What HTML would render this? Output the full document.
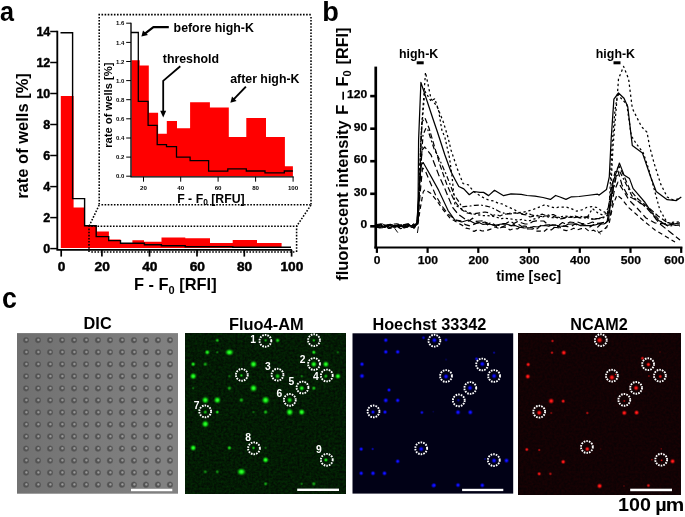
<!DOCTYPE html>
<html lang="en"><head><meta charset="utf-8"><title>Figure</title>
<style>html,body{margin:0;padding:0;background:#fff}svg{display:block}text{font-family:"Liberation Sans",sans-serif;font-weight:bold;fill:#000}</style>
</head><body>
<svg width="685" height="517" viewBox="0 0 685 517">
<defs>
<radialGradient id="gG"><stop offset="0" stop-color="#3cff3c" stop-opacity="1"/><stop offset="0.32" stop-color="#18f018" stop-opacity="0.97"/><stop offset="0.62" stop-color="#0cb00c" stop-opacity="0.55"/><stop offset="1" stop-color="#063006" stop-opacity="0"/></radialGradient>
<radialGradient id="gB"><stop offset="0" stop-color="#2020ff" stop-opacity="1"/><stop offset="0.32" stop-color="#0a0af4" stop-opacity="0.97"/><stop offset="0.62" stop-color="#0606b0" stop-opacity="0.55"/><stop offset="1" stop-color="#020230" stop-opacity="0"/></radialGradient>
<radialGradient id="gR"><stop offset="0" stop-color="#ff2a2a" stop-opacity="1"/><stop offset="0.32" stop-color="#f41212" stop-opacity="0.97"/><stop offset="0.62" stop-color="#b00a0a" stop-opacity="0.55"/><stop offset="1" stop-color="#300404" stop-opacity="0"/></radialGradient>
<radialGradient id="gD"><stop offset="0" stop-color="#505050" stop-opacity="1"/><stop offset="0.62" stop-color="#525252" stop-opacity="0.96"/><stop offset="0.84" stop-color="#5e5e5e" stop-opacity="0.6"/><stop offset="1" stop-color="#747474" stop-opacity="0"/></radialGradient>
<radialGradient id="gL"><stop offset="0" stop-color="#a2a2a2" stop-opacity="1"/><stop offset="0.45" stop-color="#939393" stop-opacity="0.9"/><stop offset="1" stop-color="#747474" stop-opacity="0"/></radialGradient>
<linearGradient id="gDbg" x1="0" y1="0" x2="1" y2="0.15"><stop offset="0" stop-color="#6f6f6f"/><stop offset="0.6" stop-color="#7b7b7b"/><stop offset="1" stop-color="#818181"/></linearGradient>
<filter id="nG" x="0" y="0" width="1" height="1" color-interpolation-filters="sRGB"><feTurbulence type="fractalNoise" baseFrequency="0.42" numOctaves="2" seed="3" result="t"/><feColorMatrix in="t" type="matrix" values="0 0 0 0 0.012  0 0.20 0 0 0.005  0 0 0 0 0.014  0 0 0 0 1"/></filter>
<filter id="nR" x="0" y="0" width="1" height="1" color-interpolation-filters="sRGB"><feTurbulence type="fractalNoise" baseFrequency="0.42" numOctaves="2" seed="5" result="t"/><feColorMatrix in="t" type="matrix" values="0.10 0 0 0 0.02  0 0 0 0 0.008  0 0 0 0 0.014  0 0 0 0 1"/></filter>
<filter id="nD" x="0" y="0" width="1" height="1" color-interpolation-filters="sRGB"><feTurbulence type="fractalNoise" baseFrequency="0.7" numOctaves="2" seed="9" result="t"/><feColorMatrix in="t" type="matrix" values="0.16 0 0 0 -0.08  0.16 0 0 0 -0.08  0.16 0 0 0 -0.08  0 0 0 0 1"/></filter>
</defs>
<rect x="0" y="0" width="685" height="517" fill="#fff"/>
<g id="panel-a">
<text x="0.1" y="21.0" font-size="28.5" textLength="14.0" lengthAdjust="spacingAndGlyphs">a</text>
<polygon fill="#ff0000" points="60.8,248.0 60.8,96.0 73.6,96.0 73.6,207.6 84.6,207.6 84.6,226.0 96.5,226.0 96.5,231.5 108.9,231.5 108.9,239.6 120.6,239.6 120.6,243.0 132.4,243.0 132.4,240.2 144.0,240.2 144.0,241.7 161.5,241.7 161.5,237.5 185.3,237.5 185.3,238.2 210.0,238.2 210.0,242.9 232.7,242.9 232.7,239.9 257.0,239.9 257.0,242.9 281.6,242.9 281.6,248.0"/>
<polyline fill="none" stroke="#000" stroke-width="1.4" stroke-linejoin="miter" points="60.5,32.8 72.6,32.8 72.6,198.6 84.6,198.6 84.6,225.7 96.2,225.7 96.2,236.6 108.7,236.6 108.7,240.6 120.5,240.6 120.5,243.2 144.4,243.2 144.4,244.8 161.4,244.8 161.4,245.8 185.2,245.8 185.2,246.8 232.8,246.8 232.8,247.2 291.0,247.2"/>
<path d="M57.3 30.7V249.9H291.9" fill="none" stroke="#000" stroke-width="1.85"/>
<line x1="50.2" y1="248.6" x2="57.3" y2="248.6" stroke="#000" stroke-width="1.5"/>
<text x="50.3" y="252.7" font-size="13.1" stroke="#000" stroke-width="0.45" text-anchor="end" textLength="7.0" lengthAdjust="spacingAndGlyphs">0</text>
<line x1="50.2" y1="217.6" x2="57.3" y2="217.6" stroke="#000" stroke-width="1.5"/>
<text x="50.3" y="221.7" font-size="13.1" stroke="#000" stroke-width="0.45" text-anchor="end" textLength="7.0" lengthAdjust="spacingAndGlyphs">2</text>
<line x1="50.2" y1="186.6" x2="57.3" y2="186.6" stroke="#000" stroke-width="1.5"/>
<text x="50.3" y="190.7" font-size="13.1" stroke="#000" stroke-width="0.45" text-anchor="end" textLength="7.0" lengthAdjust="spacingAndGlyphs">4</text>
<line x1="50.2" y1="155.5" x2="57.3" y2="155.5" stroke="#000" stroke-width="1.5"/>
<text x="50.3" y="159.6" font-size="13.1" stroke="#000" stroke-width="0.45" text-anchor="end" textLength="7.0" lengthAdjust="spacingAndGlyphs">6</text>
<line x1="50.2" y1="124.5" x2="57.3" y2="124.5" stroke="#000" stroke-width="1.5"/>
<text x="50.3" y="128.6" font-size="13.1" stroke="#000" stroke-width="0.45" text-anchor="end" textLength="7.0" lengthAdjust="spacingAndGlyphs">8</text>
<line x1="50.2" y1="93.5" x2="57.3" y2="93.5" stroke="#000" stroke-width="1.5"/>
<text x="50.3" y="97.6" font-size="13.1" stroke="#000" stroke-width="0.45" text-anchor="end" textLength="13.9" lengthAdjust="spacingAndGlyphs">10</text>
<line x1="50.2" y1="62.5" x2="57.3" y2="62.5" stroke="#000" stroke-width="1.5"/>
<text x="50.3" y="66.6" font-size="13.1" stroke="#000" stroke-width="0.45" text-anchor="end" textLength="13.9" lengthAdjust="spacingAndGlyphs">12</text>
<line x1="50.2" y1="31.5" x2="57.3" y2="31.5" stroke="#000" stroke-width="1.5"/>
<text x="50.3" y="35.6" font-size="13.1" stroke="#000" stroke-width="0.45" text-anchor="end" textLength="13.9" lengthAdjust="spacingAndGlyphs">14</text>
<line x1="61.2" y1="249.8" x2="61.2" y2="256.6" stroke="#000" stroke-width="1.7"/>
<text x="61.5" y="270.6" font-size="13.2" stroke="#000" stroke-width="0.45" text-anchor="middle" textLength="7.6" lengthAdjust="spacingAndGlyphs">0</text>
<line x1="101.9" y1="249.8" x2="101.9" y2="256.6" stroke="#000" stroke-width="1.7"/>
<text x="102.2" y="270.6" font-size="13.2" stroke="#000" stroke-width="0.45" text-anchor="middle" textLength="15.3" lengthAdjust="spacingAndGlyphs">20</text>
<line x1="149.5" y1="249.8" x2="149.5" y2="256.6" stroke="#000" stroke-width="1.7"/>
<text x="149.8" y="270.6" font-size="13.2" stroke="#000" stroke-width="0.45" text-anchor="middle" textLength="15.3" lengthAdjust="spacingAndGlyphs">40</text>
<line x1="197.0" y1="249.8" x2="197.0" y2="256.6" stroke="#000" stroke-width="1.7"/>
<text x="197.3" y="270.6" font-size="13.2" stroke="#000" stroke-width="0.45" text-anchor="middle" textLength="15.3" lengthAdjust="spacingAndGlyphs">60</text>
<line x1="244.3" y1="249.8" x2="244.3" y2="256.6" stroke="#000" stroke-width="1.7"/>
<text x="244.6" y="270.6" font-size="13.2" stroke="#000" stroke-width="0.45" text-anchor="middle" textLength="15.3" lengthAdjust="spacingAndGlyphs">80</text>
<line x1="291.6" y1="249.8" x2="291.6" y2="256.6" stroke="#000" stroke-width="1.7"/>
<text x="291.9" y="270.6" font-size="13.2" stroke="#000" stroke-width="0.45" text-anchor="middle" textLength="22.9" lengthAdjust="spacingAndGlyphs">100</text>
<text transform="translate(28.2 198.8) rotate(-90)" font-size="16.4" textLength="125.6" lengthAdjust="spacingAndGlyphs">rate of wells [%]</text>
<text x="134.0" y="289.9" font-size="16.4">F - F<tspan font-size="11" dy="3.6">0</tspan><tspan dy="-3.6"> [RFI]</tspan></text>
<line x1="98.4" y1="14.6" x2="311.8" y2="14.6" fill="none" stroke="#000" stroke-width="1.55" stroke-dasharray="1.6 1.5"/>
<line x1="99.2" y1="16.9" x2="99.2" y2="205.8" fill="none" stroke="#000" stroke-width="1.55" stroke-dasharray="1.6 1.5"/>
<line x1="311.0" y1="16.9" x2="311.0" y2="205.8" fill="none" stroke="#000" stroke-width="1.55" stroke-dasharray="1.6 1.5"/>
<line x1="101.5" y1="204.8" x2="310.2" y2="204.8" fill="none" stroke="#000" stroke-width="1.55" stroke-dasharray="1.6 1.5"/>
<line x1="88.2" y1="226.3" x2="297.4" y2="226.3" fill="none" stroke="#000" stroke-width="1.55" stroke-dasharray="1.6 1.5"/>
<line x1="89.0" y1="228.6" x2="89.0" y2="252.6" fill="none" stroke="#000" stroke-width="1.55" stroke-dasharray="1.6 1.5"/>
<line x1="296.6" y1="228.6" x2="296.6" y2="252.6" fill="none" stroke="#000" stroke-width="1.55" stroke-dasharray="1.6 1.5"/>
<line x1="91.3" y1="252.0" x2="295.8" y2="252.0" fill="none" stroke="#000" stroke-width="1.55" stroke-dasharray="1.6 1.5"/>
<line x1="99.2" y1="205.0" x2="89.0" y2="226.3" fill="none" stroke="#000" stroke-width="1.55" stroke-dasharray="1.6 1.5"/>
<line x1="311.0" y1="205.0" x2="296.6" y2="226.3" fill="none" stroke="#000" stroke-width="1.55" stroke-dasharray="1.6 1.5"/>
<polygon fill="#ff0000" points="131.6,176.2 131.6,60.3 139.7,60.3 139.7,65.4 148.8,65.4 148.8,112.8 158.1,112.8 158.1,133.8 166.8,133.8 166.8,121.0 177.0,121.0 177.0,128.2 190.1,128.2 190.1,102.3 209.9,102.3 209.9,107.5 228.8,107.5 228.8,137.0 246.3,137.0 246.3,118.0 266.0,118.0 266.0,137.0 284.9,137.0 284.9,166.2 292.9,166.2 292.9,176.2"/>
<polyline fill="none" stroke="#000" stroke-width="1.3" stroke-linejoin="miter" points="131.0,32.5 138.3,32.5 138.3,101.4 148.1,101.4 148.1,125.4 157.2,125.4 157.2,144.7 166.5,144.7 166.5,146.6 176.5,146.6 176.5,157.1 190.1,157.1 190.1,160.6 208.6,160.6 208.6,171.1 227.8,171.1 227.8,168.8 246.3,168.8 246.3,171.0 265.0,171.0 265.0,172.9 284.3,172.9 284.3,171.0 292.9,171.0"/>
<path d="M131.0 22.7V176.8H293.6" fill="none" stroke="#000" stroke-width="1.35"/>
<line x1="126.2" y1="176.2" x2="131" y2="176.2" stroke="#000" stroke-width="1.0"/>
<text x="124.3" y="178.3" font-size="6.0" text-anchor="end">0.0</text>
<line x1="126.2" y1="157.1" x2="131" y2="157.1" stroke="#000" stroke-width="1.0"/>
<text x="124.3" y="159.2" font-size="6.0" text-anchor="end">0.2</text>
<line x1="126.2" y1="138.0" x2="131" y2="138.0" stroke="#000" stroke-width="1.0"/>
<text x="124.3" y="140.1" font-size="6.0" text-anchor="end">0.4</text>
<line x1="126.2" y1="118.8" x2="131" y2="118.8" stroke="#000" stroke-width="1.0"/>
<text x="124.3" y="120.9" font-size="6.0" text-anchor="end">0.6</text>
<line x1="126.2" y1="99.7" x2="131" y2="99.7" stroke="#000" stroke-width="1.0"/>
<text x="124.3" y="101.8" font-size="6.0" text-anchor="end">0.8</text>
<line x1="126.2" y1="80.6" x2="131" y2="80.6" stroke="#000" stroke-width="1.0"/>
<text x="124.3" y="82.7" font-size="6.0" text-anchor="end">1.0</text>
<line x1="126.2" y1="61.5" x2="131" y2="61.5" stroke="#000" stroke-width="1.0"/>
<text x="124.3" y="63.6" font-size="6.0" text-anchor="end">1.2</text>
<line x1="126.2" y1="42.4" x2="131" y2="42.4" stroke="#000" stroke-width="1.0"/>
<text x="124.3" y="44.5" font-size="6.0" text-anchor="end">1.4</text>
<line x1="126.2" y1="23.2" x2="131" y2="23.2" stroke="#000" stroke-width="1.0"/>
<text x="124.3" y="25.3" font-size="6.0" text-anchor="end">1.6</text>
<line x1="143.5" y1="176.8" x2="143.5" y2="181.7" stroke="#000" stroke-width="1.0"/>
<text x="143.5" y="190.1" font-size="6.2" text-anchor="middle">20</text>
<line x1="180.7" y1="176.8" x2="180.7" y2="181.7" stroke="#000" stroke-width="1.0"/>
<text x="180.7" y="190.1" font-size="6.2" text-anchor="middle">40</text>
<line x1="218.1" y1="176.8" x2="218.1" y2="181.7" stroke="#000" stroke-width="1.0"/>
<text x="218.1" y="190.1" font-size="6.2" text-anchor="middle">60</text>
<line x1="255.6" y1="176.8" x2="255.6" y2="181.7" stroke="#000" stroke-width="1.0"/>
<text x="255.6" y="190.1" font-size="6.2" text-anchor="middle">80</text>
<line x1="293.1" y1="176.8" x2="293.1" y2="181.7" stroke="#000" stroke-width="1.0"/>
<text x="293.1" y="190.1" font-size="6.2" text-anchor="middle">100</text>
<text transform="translate(112.2 147.8) rotate(-90)" font-size="11.2">rate of wells [%]</text>
<text x="177.2" y="202.6" font-size="12.3">F - F<tspan font-size="8.4" dy="2.7">0</tspan><tspan dy="-2.7"> [RFU]</tspan></text>
<text x="173.6" y="32" font-size="12.35">before high-K</text>
<text x="162.8" y="63" font-size="12.35">threshold</text>
<text x="230.2" y="83.3" font-size="12.35">after high-K</text>
<path d="M168.8 27.1H153.4L144.6 33.8" fill="none" stroke="#000" stroke-width="2.2" stroke-linejoin="round"/>
<polygon points="141.4,36.5 143.0,30.4 148.0,35.0"/>
<path d="M180.3 66.3L163.2 80.8V112" fill="none" stroke="#000" stroke-width="1.8" stroke-linejoin="miter"/>
<polygon points="163.2,117.4 160.2,110.8 166.2,110.8"/>
<path d="M245.9 86.6L233.4 99.6" fill="none" stroke="#000" stroke-width="1.9"/>
<polygon points="230.4,102.8 232.0,96.6 236.6,101.0"/>
</g>
<g id="panel-b">
<text x="322.3" y="21.1" font-size="27.2">b</text>
<line x1="375.75" y1="66.6" x2="375.75" y2="248.55" stroke="#000" stroke-width="2.7"/>
<line x1="374.4" y1="247.5" x2="682.4" y2="247.5" stroke="#000" stroke-width="2.1"/>
<line x1="370.2" y1="226.3" x2="375.6" y2="226.3" stroke="#000" stroke-width="2.6"/>
<text x="367.2" y="228.2" font-size="11.6" stroke="#000" stroke-width="0.25" text-anchor="end" textLength="6.7" lengthAdjust="spacingAndGlyphs">0</text>
<line x1="370.2" y1="193.8" x2="375.6" y2="193.8" stroke="#000" stroke-width="2.6"/>
<text x="367.2" y="195.7" font-size="11.6" stroke="#000" stroke-width="0.25" text-anchor="end" textLength="13.5" lengthAdjust="spacingAndGlyphs">30</text>
<line x1="370.2" y1="161.2" x2="375.6" y2="161.2" stroke="#000" stroke-width="2.6"/>
<text x="367.2" y="163.1" font-size="11.6" stroke="#000" stroke-width="0.25" text-anchor="end" textLength="13.5" lengthAdjust="spacingAndGlyphs">60</text>
<line x1="370.2" y1="128.7" x2="375.6" y2="128.7" stroke="#000" stroke-width="2.6"/>
<text x="367.2" y="130.6" font-size="11.6" stroke="#000" stroke-width="0.25" text-anchor="end" textLength="13.5" lengthAdjust="spacingAndGlyphs">90</text>
<line x1="370.2" y1="96.1" x2="375.6" y2="96.1" stroke="#000" stroke-width="2.6"/>
<text x="367.2" y="98.0" font-size="11.6" stroke="#000" stroke-width="0.25" text-anchor="end" textLength="20.2" lengthAdjust="spacingAndGlyphs">120</text>
<line x1="376.9" y1="247.3" x2="376.9" y2="252.9" stroke="#000" stroke-width="2.2"/>
<text x="377.2" y="263.6" font-size="11.6" stroke="#000" stroke-width="0.25" text-anchor="middle" textLength="6.7" lengthAdjust="spacingAndGlyphs">0</text>
<line x1="427.6" y1="247.3" x2="427.6" y2="252.9" stroke="#000" stroke-width="2.2"/>
<text x="427.9" y="263.6" font-size="11.6" stroke="#000" stroke-width="0.25" text-anchor="middle" textLength="20.2" lengthAdjust="spacingAndGlyphs">100</text>
<line x1="478.3" y1="247.3" x2="478.3" y2="252.9" stroke="#000" stroke-width="2.2"/>
<text x="478.6" y="263.6" font-size="11.6" stroke="#000" stroke-width="0.25" text-anchor="middle" textLength="20.2" lengthAdjust="spacingAndGlyphs">200</text>
<line x1="529.1" y1="247.3" x2="529.1" y2="252.9" stroke="#000" stroke-width="2.2"/>
<text x="529.4" y="263.6" font-size="11.6" stroke="#000" stroke-width="0.25" text-anchor="middle" textLength="20.2" lengthAdjust="spacingAndGlyphs">300</text>
<line x1="579.8" y1="247.3" x2="579.8" y2="252.9" stroke="#000" stroke-width="2.2"/>
<text x="580.1" y="263.6" font-size="11.6" stroke="#000" stroke-width="0.25" text-anchor="middle" textLength="20.2" lengthAdjust="spacingAndGlyphs">400</text>
<line x1="630.5" y1="247.3" x2="630.5" y2="252.9" stroke="#000" stroke-width="2.2"/>
<text x="630.8" y="263.6" font-size="11.6" stroke="#000" stroke-width="0.25" text-anchor="middle" textLength="20.2" lengthAdjust="spacingAndGlyphs">500</text>
<line x1="681.2" y1="247.3" x2="681.2" y2="252.9" stroke="#000" stroke-width="2.2"/>
<text x="684.5" y="263.6" font-size="11.6" stroke="#000" stroke-width="0.25" text-anchor="end" textLength="20.2" lengthAdjust="spacingAndGlyphs">600</text>
<text x="496.2" y="281" font-size="13.9">time [sec]</text>
<text transform="translate(347.7 280.8) rotate(-90)" font-size="16.4" textLength="160.4" lengthAdjust="spacingAndGlyphs">fluorescent intensity</text>
<text transform="translate(347.7 114.8) rotate(-90)" font-size="16.4">F – F<tspan font-size="11" dy="3.4">0</tspan></text>
<text transform="translate(347.7 64.4) rotate(-90)" font-size="16.4" textLength="36.8" lengthAdjust="spacingAndGlyphs">[RFI]</text>
<text x="399" y="57.9" font-size="12.4">high-K</text>
<rect x="416.7" y="61.3" width="7.0" height="3.0" fill="#000"/>
<text x="595.8" y="57.9" font-size="12.4">high-K</text>
<rect x="613.5" y="61.3" width="7.0" height="3.0" fill="#000"/>
<polyline fill="none" stroke="#000" stroke-width="1.25" stroke-linejoin="round" points="376.8,225.0 379.8,227.1 381.9,226.2 384.4,226.7 387.3,224.8 389.1,227.3 391.5,227.1 393.3,226.0 396.1,225.3 399.3,227.6 401.1,224.6 403.7,227.7 406.0,225.2 408.4,224.6 410.5,226.0 413.0,225.3 415.1,225.2 417.2,222.0 418.1,200.0 418.6,140.0 420.9,82.4 433.0,119.0 437.1,131.0 444.9,155.0 451.0,171.8 455.0,179.5 458.8,186.5 463.8,188.9 469.3,194.7 473.7,191.5 480.0,192.4 483.6,192.4 488.6,195.6 494.5,190.3 503.6,195.7 511.0,193.8 521.2,194.4 527.0,195.5 535.0,196.2 543.0,197.5 550.4,199.4 555.6,195.5 560.0,197.0 566.0,199.4 571.4,196.8 579.0,196.5 587.0,195.5 597.6,194.2 599.2,195.1 606.5,189.6 609.3,176.8 611.1,140.0 613.9,99.1 618.5,93.0 624.0,98.2 627.7,106.5 632.3,145.5 642.4,152.9 650.6,176.8 656.2,191.5 667.2,199.7 676.4,200.6 681.3,197.0"/>
<polyline fill="none" stroke="#000" stroke-width="1.25" stroke-linejoin="round" stroke-dasharray="2.3 2.7" points="376.8,227.2 379.9,224.1 381.8,226.7 384.7,226.2 386.9,226.0 389.6,225.9 391.6,225.4 393.9,226.4 397.1,227.1 399.7,225.4 401.9,224.0 403.7,225.5 405.9,225.2 409.0,225.7 411.6,224.7 413.4,225.0 415.4,225.6 417.5,224.0 418.8,200.0 420.9,137.4 425.5,72.4 431.0,98.7 437.1,106.4 443.3,121.9 448.0,137.4 451.0,150.0 457.3,168.7 463.0,183.5 468.4,184.9 473.8,191.7 477.4,193.9 481.1,196.4 484.7,198.4 489.2,200.3 493.7,201.0 498.2,203.2 502.3,204.0 506.3,206.1 510.4,207.9 514.6,209.8 518.8,212.5 523.2,212.1 527.6,211.1 532.0,209.9 536.3,208.3 540.7,206.5 545.0,204.7 550.0,206.6 555.0,208.0 558.7,207.1 562.3,207.2 566.0,207.0 571.3,208.6 576.6,211.2 581.8,209.9 587.0,207.3 592.0,206.7 597.0,207.5 601.2,210.5 605.5,212.5 610.0,205.0 613.0,146.9 617.6,91.8 618.5,78.9 623.6,66.4 628.6,78.9 632.3,108.3 641.5,126.7 647.0,132.2 649.7,146.9 654.3,163.9 660.7,184.1 667.2,197.0 672.7,199.7 680.0,198.8"/>
<polyline fill="none" stroke="#000" stroke-width="1.25" stroke-linejoin="round" stroke-dasharray="2.2 2.5" points="376.8,225.5 379.4,226.0 382.0,226.8 383.9,224.7 386.9,225.6 389.0,228.1 391.5,227.5 393.9,226.9 395.9,226.9 399.0,226.5 401.8,227.0 403.7,227.3 406.3,225.7 408.1,227.6 410.6,227.1 413.6,227.1 417.0,224.0 419.0,200.0 420.9,137.4 424.8,91.0 431.0,101.0 434.8,98.7 438.7,111.0 441.8,130.0 444.9,137.4 449.5,157.9 452.0,176.0 454.9,205.2 459.6,207.5 464.4,210.6 469.1,212.6 473.8,214.0 478.2,214.8 482.6,215.6 487.0,215.5 491.6,216.0 496.3,217.1 500.9,218.7 505.3,218.3 509.6,218.7 514.0,219.5 518.0,220.2 522.0,219.4 526.0,220.5 530.0,220.7 533.8,219.1 537.5,218.1 541.2,217.2 545.0,216.2 550.3,217.5 555.6,217.5 559.5,217.4 563.5,216.1 567.5,216.3 571.4,216.5 575.3,216.2 579.2,217.8 583.1,218.0 587.0,217.8 592.4,208.6 598.0,213.0 603.0,215.2 609.0,212.0 612.0,146.0 615.0,110.0 617.6,94.5 626.8,104.4 631.3,135.9 636.0,143.2 643.3,152.9 648.8,169.4 654.3,189.6 659.8,209.8 667.2,222.7 680.0,221.8"/>
<polyline fill="none" stroke="#000" stroke-width="1.15" stroke-linejoin="round" points="376.8,224.9 378.7,225.4 380.8,224.3 383.1,227.2 386.0,226.7 388.2,225.9 390.3,224.7 392.3,224.8 395.4,226.9 398.3,226.8 400.4,225.2 403.1,226.6 406.1,227.1 408.0,226.2 410.7,225.8 412.8,225.7 414.7,227.3 417.0,222.0 419.0,190.0 421.0,165.0 423.2,162.5 431.0,176.4 438.7,190.4 448.1,210.6 454.9,220.0 461.7,222.0 468.4,220.0 475.0,223.5 479.0,222.6 483.0,224.4 487.0,224.0 491.3,224.5 495.7,225.3 500.0,224.2 503.8,223.9 507.5,224.2 511.2,225.8 515.0,225.5 519.5,227.2 524.0,228.0 530.0,227.5 533.8,226.5 537.5,227.0 541.2,225.7 545.0,225.5 548.8,226.3 552.5,224.8 556.2,225.2 560.0,226.0 564.0,226.4 568.0,224.3 572.0,224.0 576.3,223.9 580.7,225.8 585.0,225.5 590.0,225.6 595.0,225.0 599.5,223.6 604.0,224.0 608.4,220.9 613.0,182.3 619.4,163.0 624.0,174.9 629.5,178.6 633.2,188.7 645.1,202.5 656.2,219.0 667.2,225.4 680.0,222.7"/>
<polyline fill="none" stroke="#000" stroke-width="1.20" stroke-linejoin="round" stroke-dasharray="7 3.2" points="376.8,227.2 379.6,227.8 382.8,227.6 385.8,225.2 388.3,228.3 391.0,228.2 393.0,226.7 395.1,226.9 397.7,225.1 399.8,226.1 402.9,227.7 404.9,227.8 406.9,227.2 408.9,225.1 411.9,225.8 414.0,228.4 417.0,223.0 419.5,190.0 422.0,150.0 424.8,147.0 431.0,154.8 438.7,174.9 444.9,188.8 452.6,207.4 458.0,214.0 465.0,219.0 468.8,221.2 472.5,218.2 476.2,221.3 480.0,221.0 483.8,220.8 487.5,224.8 491.2,222.3 495.0,225.0 498.8,225.4 502.5,223.7 506.2,223.3 510.0,221.0 513.8,223.5 517.5,221.6 521.2,222.7 525.0,224.0 528.8,224.0 532.5,221.7 536.2,220.9 540.0,221.0 543.8,221.0 547.5,224.3 551.2,225.3 555.0,225.0 558.8,225.3 562.5,222.5 566.2,224.3 570.0,222.0 573.8,222.5 577.5,222.0 581.2,223.3 585.0,224.0 588.8,223.5 592.5,222.0 596.2,223.5 600.0,223.0 607.0,222.0 611.0,200.0 615.0,180.0 618.0,171.0 622.0,185.0 628.0,196.0 636.0,200.0 645.0,206.0 652.0,214.0 660.0,224.0 670.0,232.0 680.0,240.0"/>
<polyline fill="none" stroke="#000" stroke-width="1.20" stroke-linejoin="round" stroke-dasharray="5 2.4 1.8 2.4" points="376.8,226.2 379.8,225.1 381.9,223.5 384.6,225.1 387.5,224.8 390.4,224.4 393.3,226.0 395.7,225.3 398.4,224.2 401.0,226.2 403.2,226.2 406.0,226.4 408.2,223.8 411.1,226.2 413.6,223.8 415.6,225.7 418.0,222.0 420.0,180.0 423.0,135.0 426.0,128.0 427.9,130.0 434.0,148.6 440.2,161.0 446.4,174.9 454.2,195.0 458.1,200.6 462.0,207.0 466.0,206.4 470.0,206.0 475.0,205.3 480.0,205.0 485.0,205.8 490.0,207.0 495.0,209.2 500.0,212.0 505.0,213.5 510.0,214.0 515.0,212.8 520.0,213.0 523.8,214.2 527.5,213.0 531.2,214.7 535.0,216.0 538.8,215.1 542.5,214.2 546.2,215.6 550.0,214.5 553.8,214.7 557.5,216.9 561.2,218.1 565.0,217.5 568.8,216.4 572.5,217.9 576.2,217.3 580.0,216.0 584.0,217.5 588.0,216.6 592.0,219.0 595.7,218.5 599.3,218.7 603.0,218.0 608.0,215.0 612.0,195.0 616.0,178.0 620.0,172.0 626.0,184.0 632.0,196.0 640.0,203.0 650.0,210.0 660.0,221.0 668.0,226.0 680.0,225.0"/>
<polyline fill="none" stroke="#000" stroke-width="1.20" stroke-linejoin="round" stroke-dasharray="4.5 3.2" points="376.8,226.4 378.8,227.5 380.7,227.1 383.0,225.5 385.5,225.4 387.9,225.5 389.9,226.7 392.8,225.7 394.9,227.4 398.1,227.3 400.4,228.6 402.3,228.2 404.5,225.8 406.5,226.3 409.4,225.9 412.0,227.5 414.3,227.2 418.0,224.0 420.0,210.0 423.2,192.0 424.8,189.6 431.0,193.5 437.1,201.2 443.3,210.0 450.0,218.0 458.0,223.0 462.0,225.1 466.0,228.2 470.0,229.0 474.0,231.4 478.0,229.5 482.0,231.0 486.3,230.7 490.7,229.1 495.0,227.0 498.8,228.4 502.5,227.0 506.2,227.5 510.0,230.0 513.8,228.6 517.5,228.9 521.2,226.1 525.0,226.0 528.8,227.3 532.5,227.8 536.2,231.1 540.0,231.0 543.8,231.7 547.5,228.6 551.2,229.9 555.0,227.0 558.8,226.1 562.5,229.7 566.2,230.7 570.0,230.0 573.8,228.2 577.5,229.8 581.2,228.7 585.0,228.0 589.3,231.4 593.7,230.2 598.0,233.0 604.0,230.0 609.0,224.0 613.0,205.0 617.0,195.0 622.0,199.0 628.0,207.0 636.0,214.0 645.0,222.0 655.0,230.0 665.0,236.0 675.0,242.0"/>
<polyline fill="none" stroke="#000" stroke-width="1.20" stroke-linejoin="round" stroke-dasharray="6 3.6" points="376.8,224.5 379.9,224.1 382.7,224.0 384.9,227.1 387.0,225.9 389.4,225.2 391.9,224.4 394.9,224.0 397.0,223.8 399.2,225.1 402.2,225.0 404.2,224.6 407.4,223.9 410.1,225.0 412.8,224.9 415.5,225.4 418.0,223.0 420.0,195.0 422.5,168.0 425.0,170.0 430.0,182.0 436.0,196.0 442.0,206.0 448.0,214.0 456.0,220.0 460.7,220.9 465.3,224.6 470.0,226.0 473.8,224.4 477.5,222.9 481.2,223.0 485.0,222.0 488.8,223.5 492.5,224.9 496.2,226.3 500.0,228.0 503.8,226.2 507.5,225.1 511.2,225.7 515.0,224.0 518.8,224.6 522.5,227.1 526.2,228.8 530.0,229.0 533.8,229.3 537.5,228.6 541.2,225.0 545.0,225.0 548.8,224.8 552.5,227.3 556.2,227.5 560.0,228.0 563.8,225.9 567.5,226.6 571.2,226.3 575.0,224.0 578.8,226.0 582.5,224.5 586.2,225.5 590.0,227.0 593.8,224.5 597.5,227.2 601.2,223.7 605.0,224.0 610.0,218.0 614.0,192.0 618.0,182.0 623.0,190.0 629.0,200.0 637.0,208.0 646.0,218.0 655.0,223.0 668.0,224.0 680.0,226.0"/>
<polyline fill="none" stroke="#000" stroke-width="1.20" stroke-linejoin="round" stroke-dasharray="5.5 2.6" points="376.8,225.9 379.1,224.8 382.1,224.3 384.6,227.4 386.6,226.2 389.2,224.4 391.5,226.7 394.0,226.8 396.0,225.1 398.0,226.0 401.0,226.3 403.9,225.6 406.8,224.6 409.0,226.6 411.8,225.7 413.7,225.2 415.8,225.3 418.0,222.0 420.0,170.0 422.0,122.0 425.0,118.0 429.0,128.0 434.0,145.0 440.0,165.0 447.0,185.0 454.0,200.0 458.0,205.5 462.0,210.0 467.0,212.9 472.0,214.0 476.3,213.4 480.7,212.7 485.0,212.0 488.8,212.7 492.5,215.5 496.2,214.4 500.0,216.0 503.8,214.2 507.5,213.8 511.2,213.0 515.0,213.0 518.8,213.5 522.5,214.3 526.2,214.8 530.0,217.0 533.8,216.2 537.5,215.9 541.2,216.5 545.0,216.0 548.8,215.9 552.5,216.2 556.2,217.4 560.0,219.0 563.8,218.4 567.5,217.2 571.2,217.5 575.0,216.0 578.8,217.7 582.5,217.2 586.2,217.0 590.0,219.0 595.0,219.2 600.0,218.0 607.0,216.0 611.0,190.0 615.0,172.0 619.0,166.0 624.0,176.0 630.0,190.0 638.0,199.0 648.0,207.0 658.0,216.0 668.0,223.0 680.0,224.0"/>
<path d="M394.6 228.2L397.8 232.6M418.4 226.5L417.4 233M597.2 230.6L600.8 234.2M604.6 228.4L607.4 227.6" fill="none" stroke="#000" stroke-width="0.95"/>
</g>
<g id="panel-c">
<text x="2.0" y="308.4" font-size="28.6" textLength="14.9" lengthAdjust="spacingAndGlyphs">c</text>
<text x="83.6" y="329.3" font-size="16.3">DIC</text>
<text x="229" y="329.5" font-size="16.4">Fluo4-AM</text>
<text x="372.4" y="329.5" font-size="16.3">Hoechst 33342</text>
<text x="570.2" y="329.5" font-size="16.2">NCAM2</text>
<text y="510.9" font-size="17.7"><tspan x="618.1" textLength="32.9" lengthAdjust="spacingAndGlyphs">100</tspan> <tspan x="655.3" textLength="11.5" lengthAdjust="spacingAndGlyphs">µ</tspan><tspan x="665.8" textLength="18.5" lengthAdjust="spacingAndGlyphs">m</tspan></text>
<clipPath id="cD"><rect x="17" y="333.1" width="161.0" height="160.6"/></clipPath>
<rect x="17" y="333.1" width="161.0" height="160.6" fill="url(#gDbg)"/>
<g clip-path="url(#cD)">
<circle cx="14.0" cy="340.2" r="3.7" fill="url(#gD)"/>
<circle cx="14.5" cy="339.9" r="1.9" fill="url(#gL)"/>
<circle cx="26.0" cy="340.2" r="3.7" fill="url(#gD)"/>
<circle cx="26.4" cy="339.9" r="1.9" fill="url(#gL)"/>
<circle cx="38.0" cy="340.2" r="3.7" fill="url(#gD)"/>
<circle cx="38.4" cy="339.9" r="1.9" fill="url(#gL)"/>
<circle cx="50.0" cy="340.2" r="3.7" fill="url(#gD)"/>
<circle cx="50.4" cy="339.9" r="1.9" fill="url(#gL)"/>
<circle cx="62.0" cy="340.2" r="3.7" fill="url(#gD)"/>
<circle cx="62.4" cy="339.9" r="1.9" fill="url(#gL)"/>
<circle cx="74.0" cy="340.2" r="3.7" fill="url(#gD)"/>
<circle cx="74.4" cy="339.9" r="1.9" fill="url(#gL)"/>
<circle cx="86.0" cy="340.2" r="3.7" fill="url(#gD)"/>
<circle cx="86.4" cy="339.9" r="1.9" fill="url(#gL)"/>
<circle cx="97.9" cy="340.2" r="3.7" fill="url(#gD)"/>
<circle cx="98.4" cy="339.9" r="1.9" fill="url(#gL)"/>
<circle cx="109.9" cy="340.2" r="3.7" fill="url(#gD)"/>
<circle cx="110.4" cy="339.9" r="1.9" fill="url(#gL)"/>
<circle cx="121.9" cy="340.2" r="3.7" fill="url(#gD)"/>
<circle cx="122.4" cy="339.9" r="1.9" fill="url(#gL)"/>
<circle cx="133.9" cy="340.2" r="3.7" fill="url(#gD)"/>
<circle cx="134.4" cy="339.9" r="1.9" fill="url(#gL)"/>
<circle cx="145.9" cy="340.2" r="3.7" fill="url(#gD)"/>
<circle cx="146.3" cy="339.9" r="1.9" fill="url(#gL)"/>
<circle cx="157.9" cy="340.2" r="3.7" fill="url(#gD)"/>
<circle cx="158.3" cy="339.9" r="1.9" fill="url(#gL)"/>
<circle cx="169.9" cy="340.2" r="3.7" fill="url(#gD)"/>
<circle cx="170.3" cy="339.9" r="1.9" fill="url(#gL)"/>
<circle cx="181.9" cy="340.2" r="3.7" fill="url(#gD)"/>
<circle cx="182.3" cy="339.9" r="1.9" fill="url(#gL)"/>
<circle cx="14.0" cy="352.2" r="3.7" fill="url(#gD)"/>
<circle cx="14.5" cy="352.0" r="1.9" fill="url(#gL)"/>
<circle cx="26.0" cy="352.2" r="3.7" fill="url(#gD)"/>
<circle cx="26.4" cy="352.0" r="1.9" fill="url(#gL)"/>
<circle cx="38.0" cy="352.2" r="3.7" fill="url(#gD)"/>
<circle cx="38.4" cy="352.0" r="1.9" fill="url(#gL)"/>
<circle cx="50.0" cy="352.2" r="3.7" fill="url(#gD)"/>
<circle cx="50.4" cy="352.0" r="1.9" fill="url(#gL)"/>
<circle cx="62.0" cy="352.2" r="3.7" fill="url(#gD)"/>
<circle cx="62.4" cy="352.0" r="1.9" fill="url(#gL)"/>
<circle cx="74.0" cy="352.2" r="3.7" fill="url(#gD)"/>
<circle cx="74.4" cy="352.0" r="1.9" fill="url(#gL)"/>
<circle cx="86.0" cy="352.2" r="3.7" fill="url(#gD)"/>
<circle cx="86.4" cy="352.0" r="1.9" fill="url(#gL)"/>
<circle cx="97.9" cy="352.2" r="3.7" fill="url(#gD)"/>
<circle cx="98.4" cy="352.0" r="1.9" fill="url(#gL)"/>
<circle cx="109.9" cy="352.2" r="3.7" fill="url(#gD)"/>
<circle cx="110.4" cy="352.0" r="1.9" fill="url(#gL)"/>
<circle cx="121.9" cy="352.2" r="3.7" fill="url(#gD)"/>
<circle cx="122.4" cy="352.0" r="1.9" fill="url(#gL)"/>
<circle cx="133.9" cy="352.2" r="3.7" fill="url(#gD)"/>
<circle cx="134.4" cy="352.0" r="1.9" fill="url(#gL)"/>
<circle cx="145.9" cy="352.2" r="3.7" fill="url(#gD)"/>
<circle cx="146.3" cy="352.0" r="1.9" fill="url(#gL)"/>
<circle cx="157.9" cy="352.2" r="3.7" fill="url(#gD)"/>
<circle cx="158.3" cy="352.0" r="1.9" fill="url(#gL)"/>
<circle cx="169.9" cy="352.2" r="3.7" fill="url(#gD)"/>
<circle cx="170.3" cy="352.0" r="1.9" fill="url(#gL)"/>
<circle cx="181.9" cy="352.2" r="3.7" fill="url(#gD)"/>
<circle cx="182.3" cy="352.0" r="1.9" fill="url(#gL)"/>
<circle cx="14.0" cy="364.3" r="3.7" fill="url(#gD)"/>
<circle cx="14.5" cy="364.0" r="1.9" fill="url(#gL)"/>
<circle cx="26.0" cy="364.3" r="3.7" fill="url(#gD)"/>
<circle cx="26.4" cy="364.0" r="1.9" fill="url(#gL)"/>
<circle cx="38.0" cy="364.3" r="3.7" fill="url(#gD)"/>
<circle cx="38.4" cy="364.0" r="1.9" fill="url(#gL)"/>
<circle cx="50.0" cy="364.3" r="3.7" fill="url(#gD)"/>
<circle cx="50.4" cy="364.0" r="1.9" fill="url(#gL)"/>
<circle cx="62.0" cy="364.3" r="3.7" fill="url(#gD)"/>
<circle cx="62.4" cy="364.0" r="1.9" fill="url(#gL)"/>
<circle cx="74.0" cy="364.3" r="3.7" fill="url(#gD)"/>
<circle cx="74.4" cy="364.0" r="1.9" fill="url(#gL)"/>
<circle cx="86.0" cy="364.3" r="3.7" fill="url(#gD)"/>
<circle cx="86.4" cy="364.0" r="1.9" fill="url(#gL)"/>
<circle cx="97.9" cy="364.3" r="3.7" fill="url(#gD)"/>
<circle cx="98.4" cy="364.0" r="1.9" fill="url(#gL)"/>
<circle cx="109.9" cy="364.3" r="3.7" fill="url(#gD)"/>
<circle cx="110.4" cy="364.0" r="1.9" fill="url(#gL)"/>
<circle cx="121.9" cy="364.3" r="3.7" fill="url(#gD)"/>
<circle cx="122.4" cy="364.0" r="1.9" fill="url(#gL)"/>
<circle cx="133.9" cy="364.3" r="3.7" fill="url(#gD)"/>
<circle cx="134.4" cy="364.0" r="1.9" fill="url(#gL)"/>
<circle cx="145.9" cy="364.3" r="3.7" fill="url(#gD)"/>
<circle cx="146.3" cy="364.0" r="1.9" fill="url(#gL)"/>
<circle cx="157.9" cy="364.3" r="3.7" fill="url(#gD)"/>
<circle cx="158.3" cy="364.0" r="1.9" fill="url(#gL)"/>
<circle cx="169.9" cy="364.3" r="3.7" fill="url(#gD)"/>
<circle cx="170.3" cy="364.0" r="1.9" fill="url(#gL)"/>
<circle cx="181.9" cy="364.3" r="3.7" fill="url(#gD)"/>
<circle cx="182.3" cy="364.0" r="1.9" fill="url(#gL)"/>
<circle cx="14.0" cy="376.3" r="3.7" fill="url(#gD)"/>
<circle cx="14.5" cy="376.1" r="1.9" fill="url(#gL)"/>
<circle cx="26.0" cy="376.3" r="3.7" fill="url(#gD)"/>
<circle cx="26.4" cy="376.1" r="1.9" fill="url(#gL)"/>
<circle cx="38.0" cy="376.3" r="3.7" fill="url(#gD)"/>
<circle cx="38.4" cy="376.1" r="1.9" fill="url(#gL)"/>
<circle cx="50.0" cy="376.3" r="3.7" fill="url(#gD)"/>
<circle cx="50.4" cy="376.1" r="1.9" fill="url(#gL)"/>
<circle cx="62.0" cy="376.3" r="3.7" fill="url(#gD)"/>
<circle cx="62.4" cy="376.1" r="1.9" fill="url(#gL)"/>
<circle cx="74.0" cy="376.3" r="3.7" fill="url(#gD)"/>
<circle cx="74.4" cy="376.1" r="1.9" fill="url(#gL)"/>
<circle cx="86.0" cy="376.3" r="3.7" fill="url(#gD)"/>
<circle cx="86.4" cy="376.1" r="1.9" fill="url(#gL)"/>
<circle cx="97.9" cy="376.3" r="3.7" fill="url(#gD)"/>
<circle cx="98.4" cy="376.1" r="1.9" fill="url(#gL)"/>
<circle cx="109.9" cy="376.3" r="3.7" fill="url(#gD)"/>
<circle cx="110.4" cy="376.1" r="1.9" fill="url(#gL)"/>
<circle cx="121.9" cy="376.3" r="3.7" fill="url(#gD)"/>
<circle cx="122.4" cy="376.1" r="1.9" fill="url(#gL)"/>
<circle cx="133.9" cy="376.3" r="3.7" fill="url(#gD)"/>
<circle cx="134.4" cy="376.1" r="1.9" fill="url(#gL)"/>
<circle cx="145.9" cy="376.3" r="3.7" fill="url(#gD)"/>
<circle cx="146.3" cy="376.1" r="1.9" fill="url(#gL)"/>
<circle cx="157.9" cy="376.3" r="3.7" fill="url(#gD)"/>
<circle cx="158.3" cy="376.1" r="1.9" fill="url(#gL)"/>
<circle cx="169.9" cy="376.3" r="3.7" fill="url(#gD)"/>
<circle cx="170.3" cy="376.1" r="1.9" fill="url(#gL)"/>
<circle cx="181.9" cy="376.3" r="3.7" fill="url(#gD)"/>
<circle cx="182.3" cy="376.1" r="1.9" fill="url(#gL)"/>
<circle cx="14.0" cy="388.4" r="3.7" fill="url(#gD)"/>
<circle cx="14.5" cy="388.1" r="1.9" fill="url(#gL)"/>
<circle cx="26.0" cy="388.4" r="3.7" fill="url(#gD)"/>
<circle cx="26.4" cy="388.1" r="1.9" fill="url(#gL)"/>
<circle cx="38.0" cy="388.4" r="3.7" fill="url(#gD)"/>
<circle cx="38.4" cy="388.1" r="1.9" fill="url(#gL)"/>
<circle cx="50.0" cy="388.4" r="3.7" fill="url(#gD)"/>
<circle cx="50.4" cy="388.1" r="1.9" fill="url(#gL)"/>
<circle cx="62.0" cy="388.4" r="3.7" fill="url(#gD)"/>
<circle cx="62.4" cy="388.1" r="1.9" fill="url(#gL)"/>
<circle cx="74.0" cy="388.4" r="3.7" fill="url(#gD)"/>
<circle cx="74.4" cy="388.1" r="1.9" fill="url(#gL)"/>
<circle cx="86.0" cy="388.4" r="3.7" fill="url(#gD)"/>
<circle cx="86.4" cy="388.1" r="1.9" fill="url(#gL)"/>
<circle cx="97.9" cy="388.4" r="3.7" fill="url(#gD)"/>
<circle cx="98.4" cy="388.1" r="1.9" fill="url(#gL)"/>
<circle cx="109.9" cy="388.4" r="3.7" fill="url(#gD)"/>
<circle cx="110.4" cy="388.1" r="1.9" fill="url(#gL)"/>
<circle cx="121.9" cy="388.4" r="3.7" fill="url(#gD)"/>
<circle cx="122.4" cy="388.1" r="1.9" fill="url(#gL)"/>
<circle cx="133.9" cy="388.4" r="3.7" fill="url(#gD)"/>
<circle cx="134.4" cy="388.1" r="1.9" fill="url(#gL)"/>
<circle cx="145.9" cy="388.4" r="3.7" fill="url(#gD)"/>
<circle cx="146.3" cy="388.1" r="1.9" fill="url(#gL)"/>
<circle cx="157.9" cy="388.4" r="3.7" fill="url(#gD)"/>
<circle cx="158.3" cy="388.1" r="1.9" fill="url(#gL)"/>
<circle cx="169.9" cy="388.4" r="3.7" fill="url(#gD)"/>
<circle cx="170.3" cy="388.1" r="1.9" fill="url(#gL)"/>
<circle cx="181.9" cy="388.4" r="3.7" fill="url(#gD)"/>
<circle cx="182.3" cy="388.1" r="1.9" fill="url(#gL)"/>
<circle cx="14.0" cy="400.4" r="3.7" fill="url(#gD)"/>
<circle cx="14.5" cy="400.1" r="1.9" fill="url(#gL)"/>
<circle cx="26.0" cy="400.4" r="3.7" fill="url(#gD)"/>
<circle cx="26.4" cy="400.1" r="1.9" fill="url(#gL)"/>
<circle cx="38.0" cy="400.4" r="3.7" fill="url(#gD)"/>
<circle cx="38.4" cy="400.1" r="1.9" fill="url(#gL)"/>
<circle cx="50.0" cy="400.4" r="3.7" fill="url(#gD)"/>
<circle cx="50.4" cy="400.1" r="1.9" fill="url(#gL)"/>
<circle cx="62.0" cy="400.4" r="3.7" fill="url(#gD)"/>
<circle cx="62.4" cy="400.1" r="1.9" fill="url(#gL)"/>
<circle cx="74.0" cy="400.4" r="3.7" fill="url(#gD)"/>
<circle cx="74.4" cy="400.1" r="1.9" fill="url(#gL)"/>
<circle cx="86.0" cy="400.4" r="3.7" fill="url(#gD)"/>
<circle cx="86.4" cy="400.1" r="1.9" fill="url(#gL)"/>
<circle cx="97.9" cy="400.4" r="3.7" fill="url(#gD)"/>
<circle cx="98.4" cy="400.1" r="1.9" fill="url(#gL)"/>
<circle cx="109.9" cy="400.4" r="3.7" fill="url(#gD)"/>
<circle cx="110.4" cy="400.1" r="1.9" fill="url(#gL)"/>
<circle cx="121.9" cy="400.4" r="3.7" fill="url(#gD)"/>
<circle cx="122.4" cy="400.1" r="1.9" fill="url(#gL)"/>
<circle cx="133.9" cy="400.4" r="3.7" fill="url(#gD)"/>
<circle cx="134.4" cy="400.1" r="1.9" fill="url(#gL)"/>
<circle cx="145.9" cy="400.4" r="3.7" fill="url(#gD)"/>
<circle cx="146.3" cy="400.1" r="1.9" fill="url(#gL)"/>
<circle cx="157.9" cy="400.4" r="3.7" fill="url(#gD)"/>
<circle cx="158.3" cy="400.1" r="1.9" fill="url(#gL)"/>
<circle cx="169.9" cy="400.4" r="3.7" fill="url(#gD)"/>
<circle cx="170.3" cy="400.1" r="1.9" fill="url(#gL)"/>
<circle cx="181.9" cy="400.4" r="3.7" fill="url(#gD)"/>
<circle cx="182.3" cy="400.1" r="1.9" fill="url(#gL)"/>
<circle cx="14.0" cy="412.4" r="3.7" fill="url(#gD)"/>
<circle cx="14.5" cy="412.2" r="1.9" fill="url(#gL)"/>
<circle cx="26.0" cy="412.4" r="3.7" fill="url(#gD)"/>
<circle cx="26.4" cy="412.2" r="1.9" fill="url(#gL)"/>
<circle cx="38.0" cy="412.4" r="3.7" fill="url(#gD)"/>
<circle cx="38.4" cy="412.2" r="1.9" fill="url(#gL)"/>
<circle cx="50.0" cy="412.4" r="3.7" fill="url(#gD)"/>
<circle cx="50.4" cy="412.2" r="1.9" fill="url(#gL)"/>
<circle cx="62.0" cy="412.4" r="3.7" fill="url(#gD)"/>
<circle cx="62.4" cy="412.2" r="1.9" fill="url(#gL)"/>
<circle cx="74.0" cy="412.4" r="3.7" fill="url(#gD)"/>
<circle cx="74.4" cy="412.2" r="1.9" fill="url(#gL)"/>
<circle cx="86.0" cy="412.4" r="3.7" fill="url(#gD)"/>
<circle cx="86.4" cy="412.2" r="1.9" fill="url(#gL)"/>
<circle cx="97.9" cy="412.4" r="3.7" fill="url(#gD)"/>
<circle cx="98.4" cy="412.2" r="1.9" fill="url(#gL)"/>
<circle cx="109.9" cy="412.4" r="3.7" fill="url(#gD)"/>
<circle cx="110.4" cy="412.2" r="1.9" fill="url(#gL)"/>
<circle cx="121.9" cy="412.4" r="3.7" fill="url(#gD)"/>
<circle cx="122.4" cy="412.2" r="1.9" fill="url(#gL)"/>
<circle cx="133.9" cy="412.4" r="3.7" fill="url(#gD)"/>
<circle cx="134.4" cy="412.2" r="1.9" fill="url(#gL)"/>
<circle cx="145.9" cy="412.4" r="3.7" fill="url(#gD)"/>
<circle cx="146.3" cy="412.2" r="1.9" fill="url(#gL)"/>
<circle cx="157.9" cy="412.4" r="3.7" fill="url(#gD)"/>
<circle cx="158.3" cy="412.2" r="1.9" fill="url(#gL)"/>
<circle cx="169.9" cy="412.4" r="3.7" fill="url(#gD)"/>
<circle cx="170.3" cy="412.2" r="1.9" fill="url(#gL)"/>
<circle cx="181.9" cy="412.4" r="3.7" fill="url(#gD)"/>
<circle cx="182.3" cy="412.2" r="1.9" fill="url(#gL)"/>
<circle cx="14.0" cy="424.5" r="3.7" fill="url(#gD)"/>
<circle cx="14.5" cy="424.2" r="1.9" fill="url(#gL)"/>
<circle cx="26.0" cy="424.5" r="3.7" fill="url(#gD)"/>
<circle cx="26.4" cy="424.2" r="1.9" fill="url(#gL)"/>
<circle cx="38.0" cy="424.5" r="3.7" fill="url(#gD)"/>
<circle cx="38.4" cy="424.2" r="1.9" fill="url(#gL)"/>
<circle cx="50.0" cy="424.5" r="3.7" fill="url(#gD)"/>
<circle cx="50.4" cy="424.2" r="1.9" fill="url(#gL)"/>
<circle cx="62.0" cy="424.5" r="3.7" fill="url(#gD)"/>
<circle cx="62.4" cy="424.2" r="1.9" fill="url(#gL)"/>
<circle cx="74.0" cy="424.5" r="3.7" fill="url(#gD)"/>
<circle cx="74.4" cy="424.2" r="1.9" fill="url(#gL)"/>
<circle cx="86.0" cy="424.5" r="3.7" fill="url(#gD)"/>
<circle cx="86.4" cy="424.2" r="1.9" fill="url(#gL)"/>
<circle cx="97.9" cy="424.5" r="3.7" fill="url(#gD)"/>
<circle cx="98.4" cy="424.2" r="1.9" fill="url(#gL)"/>
<circle cx="109.9" cy="424.5" r="3.7" fill="url(#gD)"/>
<circle cx="110.4" cy="424.2" r="1.9" fill="url(#gL)"/>
<circle cx="121.9" cy="424.5" r="3.7" fill="url(#gD)"/>
<circle cx="122.4" cy="424.2" r="1.9" fill="url(#gL)"/>
<circle cx="133.9" cy="424.5" r="3.7" fill="url(#gD)"/>
<circle cx="134.4" cy="424.2" r="1.9" fill="url(#gL)"/>
<circle cx="145.9" cy="424.5" r="3.7" fill="url(#gD)"/>
<circle cx="146.3" cy="424.2" r="1.9" fill="url(#gL)"/>
<circle cx="157.9" cy="424.5" r="3.7" fill="url(#gD)"/>
<circle cx="158.3" cy="424.2" r="1.9" fill="url(#gL)"/>
<circle cx="169.9" cy="424.5" r="3.7" fill="url(#gD)"/>
<circle cx="170.3" cy="424.2" r="1.9" fill="url(#gL)"/>
<circle cx="181.9" cy="424.5" r="3.7" fill="url(#gD)"/>
<circle cx="182.3" cy="424.2" r="1.9" fill="url(#gL)"/>
<circle cx="14.0" cy="436.5" r="3.7" fill="url(#gD)"/>
<circle cx="14.5" cy="436.3" r="1.9" fill="url(#gL)"/>
<circle cx="26.0" cy="436.5" r="3.7" fill="url(#gD)"/>
<circle cx="26.4" cy="436.3" r="1.9" fill="url(#gL)"/>
<circle cx="38.0" cy="436.5" r="3.7" fill="url(#gD)"/>
<circle cx="38.4" cy="436.3" r="1.9" fill="url(#gL)"/>
<circle cx="50.0" cy="436.5" r="3.7" fill="url(#gD)"/>
<circle cx="50.4" cy="436.3" r="1.9" fill="url(#gL)"/>
<circle cx="62.0" cy="436.5" r="3.7" fill="url(#gD)"/>
<circle cx="62.4" cy="436.3" r="1.9" fill="url(#gL)"/>
<circle cx="74.0" cy="436.5" r="3.7" fill="url(#gD)"/>
<circle cx="74.4" cy="436.3" r="1.9" fill="url(#gL)"/>
<circle cx="86.0" cy="436.5" r="3.7" fill="url(#gD)"/>
<circle cx="86.4" cy="436.3" r="1.9" fill="url(#gL)"/>
<circle cx="97.9" cy="436.5" r="3.7" fill="url(#gD)"/>
<circle cx="98.4" cy="436.3" r="1.9" fill="url(#gL)"/>
<circle cx="109.9" cy="436.5" r="3.7" fill="url(#gD)"/>
<circle cx="110.4" cy="436.3" r="1.9" fill="url(#gL)"/>
<circle cx="121.9" cy="436.5" r="3.7" fill="url(#gD)"/>
<circle cx="122.4" cy="436.3" r="1.9" fill="url(#gL)"/>
<circle cx="133.9" cy="436.5" r="3.7" fill="url(#gD)"/>
<circle cx="134.4" cy="436.3" r="1.9" fill="url(#gL)"/>
<circle cx="145.9" cy="436.5" r="3.7" fill="url(#gD)"/>
<circle cx="146.3" cy="436.3" r="1.9" fill="url(#gL)"/>
<circle cx="157.9" cy="436.5" r="3.7" fill="url(#gD)"/>
<circle cx="158.3" cy="436.3" r="1.9" fill="url(#gL)"/>
<circle cx="169.9" cy="436.5" r="3.7" fill="url(#gD)"/>
<circle cx="170.3" cy="436.3" r="1.9" fill="url(#gL)"/>
<circle cx="181.9" cy="436.5" r="3.7" fill="url(#gD)"/>
<circle cx="182.3" cy="436.3" r="1.9" fill="url(#gL)"/>
<circle cx="14.0" cy="448.6" r="3.7" fill="url(#gD)"/>
<circle cx="14.5" cy="448.3" r="1.9" fill="url(#gL)"/>
<circle cx="26.0" cy="448.6" r="3.7" fill="url(#gD)"/>
<circle cx="26.4" cy="448.3" r="1.9" fill="url(#gL)"/>
<circle cx="38.0" cy="448.6" r="3.7" fill="url(#gD)"/>
<circle cx="38.4" cy="448.3" r="1.9" fill="url(#gL)"/>
<circle cx="50.0" cy="448.6" r="3.7" fill="url(#gD)"/>
<circle cx="50.4" cy="448.3" r="1.9" fill="url(#gL)"/>
<circle cx="62.0" cy="448.6" r="3.7" fill="url(#gD)"/>
<circle cx="62.4" cy="448.3" r="1.9" fill="url(#gL)"/>
<circle cx="74.0" cy="448.6" r="3.7" fill="url(#gD)"/>
<circle cx="74.4" cy="448.3" r="1.9" fill="url(#gL)"/>
<circle cx="86.0" cy="448.6" r="3.7" fill="url(#gD)"/>
<circle cx="86.4" cy="448.3" r="1.9" fill="url(#gL)"/>
<circle cx="97.9" cy="448.6" r="3.7" fill="url(#gD)"/>
<circle cx="98.4" cy="448.3" r="1.9" fill="url(#gL)"/>
<circle cx="109.9" cy="448.6" r="3.7" fill="url(#gD)"/>
<circle cx="110.4" cy="448.3" r="1.9" fill="url(#gL)"/>
<circle cx="121.9" cy="448.6" r="3.7" fill="url(#gD)"/>
<circle cx="122.4" cy="448.3" r="1.9" fill="url(#gL)"/>
<circle cx="133.9" cy="448.6" r="3.7" fill="url(#gD)"/>
<circle cx="134.4" cy="448.3" r="1.9" fill="url(#gL)"/>
<circle cx="145.9" cy="448.6" r="3.7" fill="url(#gD)"/>
<circle cx="146.3" cy="448.3" r="1.9" fill="url(#gL)"/>
<circle cx="157.9" cy="448.6" r="3.7" fill="url(#gD)"/>
<circle cx="158.3" cy="448.3" r="1.9" fill="url(#gL)"/>
<circle cx="169.9" cy="448.6" r="3.7" fill="url(#gD)"/>
<circle cx="170.3" cy="448.3" r="1.9" fill="url(#gL)"/>
<circle cx="181.9" cy="448.6" r="3.7" fill="url(#gD)"/>
<circle cx="182.3" cy="448.3" r="1.9" fill="url(#gL)"/>
<circle cx="14.0" cy="460.6" r="3.7" fill="url(#gD)"/>
<circle cx="14.5" cy="460.3" r="1.9" fill="url(#gL)"/>
<circle cx="26.0" cy="460.6" r="3.7" fill="url(#gD)"/>
<circle cx="26.4" cy="460.3" r="1.9" fill="url(#gL)"/>
<circle cx="38.0" cy="460.6" r="3.7" fill="url(#gD)"/>
<circle cx="38.4" cy="460.3" r="1.9" fill="url(#gL)"/>
<circle cx="50.0" cy="460.6" r="3.7" fill="url(#gD)"/>
<circle cx="50.4" cy="460.3" r="1.9" fill="url(#gL)"/>
<circle cx="62.0" cy="460.6" r="3.7" fill="url(#gD)"/>
<circle cx="62.4" cy="460.3" r="1.9" fill="url(#gL)"/>
<circle cx="74.0" cy="460.6" r="3.7" fill="url(#gD)"/>
<circle cx="74.4" cy="460.3" r="1.9" fill="url(#gL)"/>
<circle cx="86.0" cy="460.6" r="3.7" fill="url(#gD)"/>
<circle cx="86.4" cy="460.3" r="1.9" fill="url(#gL)"/>
<circle cx="97.9" cy="460.6" r="3.7" fill="url(#gD)"/>
<circle cx="98.4" cy="460.3" r="1.9" fill="url(#gL)"/>
<circle cx="109.9" cy="460.6" r="3.7" fill="url(#gD)"/>
<circle cx="110.4" cy="460.3" r="1.9" fill="url(#gL)"/>
<circle cx="121.9" cy="460.6" r="3.7" fill="url(#gD)"/>
<circle cx="122.4" cy="460.3" r="1.9" fill="url(#gL)"/>
<circle cx="133.9" cy="460.6" r="3.7" fill="url(#gD)"/>
<circle cx="134.4" cy="460.3" r="1.9" fill="url(#gL)"/>
<circle cx="145.9" cy="460.6" r="3.7" fill="url(#gD)"/>
<circle cx="146.3" cy="460.3" r="1.9" fill="url(#gL)"/>
<circle cx="157.9" cy="460.6" r="3.7" fill="url(#gD)"/>
<circle cx="158.3" cy="460.3" r="1.9" fill="url(#gL)"/>
<circle cx="169.9" cy="460.6" r="3.7" fill="url(#gD)"/>
<circle cx="170.3" cy="460.3" r="1.9" fill="url(#gL)"/>
<circle cx="181.9" cy="460.6" r="3.7" fill="url(#gD)"/>
<circle cx="182.3" cy="460.3" r="1.9" fill="url(#gL)"/>
<circle cx="14.0" cy="472.6" r="3.7" fill="url(#gD)"/>
<circle cx="14.5" cy="472.4" r="1.9" fill="url(#gL)"/>
<circle cx="26.0" cy="472.6" r="3.7" fill="url(#gD)"/>
<circle cx="26.4" cy="472.4" r="1.9" fill="url(#gL)"/>
<circle cx="38.0" cy="472.6" r="3.7" fill="url(#gD)"/>
<circle cx="38.4" cy="472.4" r="1.9" fill="url(#gL)"/>
<circle cx="50.0" cy="472.6" r="3.7" fill="url(#gD)"/>
<circle cx="50.4" cy="472.4" r="1.9" fill="url(#gL)"/>
<circle cx="62.0" cy="472.6" r="3.7" fill="url(#gD)"/>
<circle cx="62.4" cy="472.4" r="1.9" fill="url(#gL)"/>
<circle cx="74.0" cy="472.6" r="3.7" fill="url(#gD)"/>
<circle cx="74.4" cy="472.4" r="1.9" fill="url(#gL)"/>
<circle cx="86.0" cy="472.6" r="3.7" fill="url(#gD)"/>
<circle cx="86.4" cy="472.4" r="1.9" fill="url(#gL)"/>
<circle cx="97.9" cy="472.6" r="3.7" fill="url(#gD)"/>
<circle cx="98.4" cy="472.4" r="1.9" fill="url(#gL)"/>
<circle cx="109.9" cy="472.6" r="3.7" fill="url(#gD)"/>
<circle cx="110.4" cy="472.4" r="1.9" fill="url(#gL)"/>
<circle cx="121.9" cy="472.6" r="3.7" fill="url(#gD)"/>
<circle cx="122.4" cy="472.4" r="1.9" fill="url(#gL)"/>
<circle cx="133.9" cy="472.6" r="3.7" fill="url(#gD)"/>
<circle cx="134.4" cy="472.4" r="1.9" fill="url(#gL)"/>
<circle cx="145.9" cy="472.6" r="3.7" fill="url(#gD)"/>
<circle cx="146.3" cy="472.4" r="1.9" fill="url(#gL)"/>
<circle cx="157.9" cy="472.6" r="3.7" fill="url(#gD)"/>
<circle cx="158.3" cy="472.4" r="1.9" fill="url(#gL)"/>
<circle cx="169.9" cy="472.6" r="3.7" fill="url(#gD)"/>
<circle cx="170.3" cy="472.4" r="1.9" fill="url(#gL)"/>
<circle cx="181.9" cy="472.6" r="3.7" fill="url(#gD)"/>
<circle cx="182.3" cy="472.4" r="1.9" fill="url(#gL)"/>
<circle cx="14.0" cy="484.7" r="3.7" fill="url(#gD)"/>
<circle cx="14.5" cy="484.4" r="1.9" fill="url(#gL)"/>
<circle cx="26.0" cy="484.7" r="3.7" fill="url(#gD)"/>
<circle cx="26.4" cy="484.4" r="1.9" fill="url(#gL)"/>
<circle cx="38.0" cy="484.7" r="3.7" fill="url(#gD)"/>
<circle cx="38.4" cy="484.4" r="1.9" fill="url(#gL)"/>
<circle cx="50.0" cy="484.7" r="3.7" fill="url(#gD)"/>
<circle cx="50.4" cy="484.4" r="1.9" fill="url(#gL)"/>
<circle cx="62.0" cy="484.7" r="3.7" fill="url(#gD)"/>
<circle cx="62.4" cy="484.4" r="1.9" fill="url(#gL)"/>
<circle cx="74.0" cy="484.7" r="3.7" fill="url(#gD)"/>
<circle cx="74.4" cy="484.4" r="1.9" fill="url(#gL)"/>
<circle cx="86.0" cy="484.7" r="3.7" fill="url(#gD)"/>
<circle cx="86.4" cy="484.4" r="1.9" fill="url(#gL)"/>
<circle cx="97.9" cy="484.7" r="3.7" fill="url(#gD)"/>
<circle cx="98.4" cy="484.4" r="1.9" fill="url(#gL)"/>
<circle cx="109.9" cy="484.7" r="3.7" fill="url(#gD)"/>
<circle cx="110.4" cy="484.4" r="1.9" fill="url(#gL)"/>
<circle cx="121.9" cy="484.7" r="3.7" fill="url(#gD)"/>
<circle cx="122.4" cy="484.4" r="1.9" fill="url(#gL)"/>
<circle cx="133.9" cy="484.7" r="3.7" fill="url(#gD)"/>
<circle cx="134.4" cy="484.4" r="1.9" fill="url(#gL)"/>
<circle cx="145.9" cy="484.7" r="3.7" fill="url(#gD)"/>
<circle cx="146.3" cy="484.4" r="1.9" fill="url(#gL)"/>
<circle cx="157.9" cy="484.7" r="3.7" fill="url(#gD)"/>
<circle cx="158.3" cy="484.4" r="1.9" fill="url(#gL)"/>
<circle cx="169.9" cy="484.7" r="3.7" fill="url(#gD)"/>
<circle cx="170.3" cy="484.4" r="1.9" fill="url(#gL)"/>
<circle cx="181.9" cy="484.7" r="3.7" fill="url(#gD)"/>
<circle cx="182.3" cy="484.4" r="1.9" fill="url(#gL)"/>
</g>
<rect x="131" y="488.8" width="41.3" height="2.4" fill="#fff"/>
<rect x="185.1" y="333.3" width="160.7" height="160.5" fill="#061a06"/>
<rect x="185.1" y="333.3" width="160.7" height="160.5" filter="url(#nG)"/>
<circle cx="217.3" cy="340.4" r="2.59" fill="url(#gG)" opacity="0.65"/>
<circle cx="265.6" cy="340.4" r="2.16" fill="url(#gG)" opacity="0.60"/>
<circle cx="207.3" cy="352.3" r="3.20" fill="url(#gG)" opacity="0.90"/>
<ellipse cx="229.4" cy="352.3" rx="5.28" ry="4.16" fill="url(#gG)" opacity="1.00"/>
<circle cx="217.3" cy="352.3" r="2.16" fill="url(#gG)" opacity="0.35"/>
<circle cx="193.2" cy="364.2" r="2.88" fill="url(#gG)" opacity="0.85"/>
<circle cx="205.3" cy="364.2" r="2.81" fill="url(#gG)" opacity="0.55"/>
<circle cx="253.5" cy="364.2" r="4.32" fill="url(#gG)" opacity="1.00"/>
<circle cx="193.2" cy="376.2" r="4.16" fill="url(#gG)" opacity="1.00"/>
<circle cx="241.4" cy="375.4" r="2.08" fill="url(#gG)" opacity="0.80"/>
<circle cx="229.4" cy="376.2" r="2.16" fill="url(#gG)" opacity="0.35"/>
<circle cx="229.4" cy="388.2" r="2.81" fill="url(#gG)" opacity="0.60"/>
<circle cx="253.5" cy="388.2" r="4.48" fill="url(#gG)" opacity="1.00"/>
<circle cx="205.3" cy="400.1" r="4.32" fill="url(#gG)" opacity="1.00"/>
<circle cx="217.3" cy="400.1" r="4.32" fill="url(#gG)" opacity="1.00"/>
<circle cx="241.4" cy="400.1" r="3.02" fill="url(#gG)" opacity="0.60"/>
<circle cx="265.6" cy="400.1" r="4.80" fill="url(#gG)" opacity="1.00"/>
<circle cx="205.3" cy="412.1" r="2.59" fill="url(#gG)" opacity="0.65"/>
<circle cx="217.3" cy="412.1" r="2.40" fill="url(#gG)" opacity="0.85"/>
<circle cx="265.6" cy="412.1" r="2.81" fill="url(#gG)" opacity="0.65"/>
<circle cx="193.2" cy="388.2" r="2.16" fill="url(#gG)" opacity="0.30"/>
<circle cx="277.6" cy="340.4" r="2.81" fill="url(#gG)" opacity="0.75"/>
<circle cx="313.8" cy="340.4" r="2.16" fill="url(#gG)" opacity="0.65"/>
<circle cx="313.8" cy="352.3" r="2.72" fill="url(#gG)" opacity="0.85"/>
<circle cx="313.8" cy="364.2" r="3.68" fill="url(#gG)" opacity="1.00"/>
<circle cx="325.9" cy="364.2" r="3.84" fill="url(#gG)" opacity="1.00"/>
<circle cx="277.6" cy="376.2" r="3.24" fill="url(#gG)" opacity="0.75"/>
<circle cx="301.7" cy="376.2" r="2.16" fill="url(#gG)" opacity="0.40"/>
<circle cx="325.9" cy="376.2" r="2.59" fill="url(#gG)" opacity="0.65"/>
<circle cx="337.9" cy="376.2" r="3.52" fill="url(#gG)" opacity="1.00"/>
<circle cx="301.7" cy="388.2" r="3.20" fill="url(#gG)" opacity="0.95"/>
<circle cx="313.8" cy="388.2" r="2.81" fill="url(#gG)" opacity="0.65"/>
<circle cx="289.7" cy="400.1" r="3.46" fill="url(#gG)" opacity="0.85"/>
<circle cx="289.7" cy="412.1" r="4.48" fill="url(#gG)" opacity="1.00"/>
<circle cx="301.7" cy="412.1" r="4.00" fill="url(#gG)" opacity="1.00"/>
<circle cx="337.9" cy="352.3" r="2.16" fill="url(#gG)" opacity="0.30"/>
<circle cx="253.5" cy="412.1" r="2.16" fill="url(#gG)" opacity="0.30"/>
<circle cx="205.3" cy="424.0" r="4.48" fill="url(#gG)" opacity="1.00"/>
<circle cx="193.2" cy="447.9" r="3.84" fill="url(#gG)" opacity="1.00"/>
<circle cx="229.4" cy="447.9" r="2.81" fill="url(#gG)" opacity="0.75"/>
<circle cx="253.5" cy="447.9" r="2.16" fill="url(#gG)" opacity="0.75"/>
<circle cx="265.6" cy="459.9" r="3.84" fill="url(#gG)" opacity="1.00"/>
<ellipse cx="241.4" cy="471.8" rx="5.44" ry="4.48" fill="url(#gG)" opacity="1.00"/>
<circle cx="205.3" cy="471.8" r="2.59" fill="url(#gG)" opacity="0.45"/>
<circle cx="217.3" cy="471.8" r="2.59" fill="url(#gG)" opacity="0.45"/>
<circle cx="265.6" cy="483.8" r="2.59" fill="url(#gG)" opacity="0.55"/>
<circle cx="325.9" cy="459.9" r="2.59" fill="url(#gG)" opacity="0.85"/>
<circle cx="313.8" cy="483.8" r="2.81" fill="url(#gG)" opacity="0.55"/>
<circle cx="301.7" cy="483.8" r="2.16" fill="url(#gG)" opacity="0.35"/>
<circle cx="265.6" cy="447.9" r="2.16" fill="url(#gG)" opacity="0.30"/>
<circle cx="265.4" cy="340.8" r="5.9" fill="none" stroke="#fff" stroke-width="1.9" stroke-dasharray="1.6 1.048"/>
<circle cx="314.0" cy="340.2" r="5.9" fill="none" stroke="#fff" stroke-width="1.9" stroke-dasharray="1.6 1.048"/>
<circle cx="241.8" cy="374.9" r="5.9" fill="none" stroke="#fff" stroke-width="1.9" stroke-dasharray="1.6 1.048"/>
<circle cx="314.0" cy="364.0" r="5.9" fill="none" stroke="#fff" stroke-width="1.9" stroke-dasharray="1.6 1.048"/>
<circle cx="277.5" cy="374.7" r="5.9" fill="none" stroke="#fff" stroke-width="1.9" stroke-dasharray="1.6 1.048"/>
<circle cx="326.8" cy="375.5" r="5.9" fill="none" stroke="#fff" stroke-width="1.9" stroke-dasharray="1.6 1.048"/>
<circle cx="302.5" cy="387.5" r="5.9" fill="none" stroke="#fff" stroke-width="1.9" stroke-dasharray="1.6 1.048"/>
<circle cx="289.8" cy="399.9" r="5.9" fill="none" stroke="#fff" stroke-width="1.9" stroke-dasharray="1.6 1.048"/>
<circle cx="205.2" cy="411.4" r="5.9" fill="none" stroke="#fff" stroke-width="1.9" stroke-dasharray="1.6 1.048"/>
<circle cx="254.0" cy="448.3" r="5.9" fill="none" stroke="#fff" stroke-width="1.9" stroke-dasharray="1.6 1.048"/>
<circle cx="326.8" cy="459.8" r="5.9" fill="none" stroke="#fff" stroke-width="1.9" stroke-dasharray="1.6 1.048"/>
<text x="253.1" y="342.7" font-size="10.3" text-anchor="middle" style="fill:#fff">1</text>
<text x="302.5" y="363.3" font-size="10.3" text-anchor="middle" style="fill:#fff">2</text>
<text x="267.9" y="369.5" font-size="10.3" text-anchor="middle" style="fill:#fff">3</text>
<text x="315.9" y="380.2" font-size="10.3" text-anchor="middle" style="fill:#fff">4</text>
<text x="291.3" y="384.7" font-size="10.3" text-anchor="middle" style="fill:#fff">5</text>
<text x="279.4" y="397.0" font-size="10.3" text-anchor="middle" style="fill:#fff">6</text>
<text x="196.6" y="408.5" font-size="10.3" text-anchor="middle" style="fill:#fff">7</text>
<text x="248.0" y="441.3" font-size="10.3" text-anchor="middle" style="fill:#fff">8</text>
<text x="318.9" y="452.7" font-size="10.3" text-anchor="middle" style="fill:#fff">9</text>
<rect x="297.2" y="488.6" width="41.8" height="2.4" fill="#fff"/>
<rect x="352.5" y="333.3" width="160.7" height="160.3" fill="#010116"/>
<circle cx="385.8" cy="340.2" r="2.88" fill="url(#gB)" opacity="1.00"/>
<circle cx="423.5" cy="337.7" r="2.40" fill="url(#gB)" opacity="0.70"/>
<circle cx="434.4" cy="340.2" r="3.20" fill="url(#gB)" opacity="1.00"/>
<circle cx="385.8" cy="351.9" r="2.88" fill="url(#gB)" opacity="1.00"/>
<circle cx="397.7" cy="351.9" r="2.88" fill="url(#gB)" opacity="1.00"/>
<circle cx="362.0" cy="364.2" r="2.88" fill="url(#gB)" opacity="1.00"/>
<circle cx="362.0" cy="376.0" r="3.20" fill="url(#gB)" opacity="1.00"/>
<circle cx="389.0" cy="390.0" r="2.56" fill="url(#gB)" opacity="1.00"/>
<circle cx="385.8" cy="400.4" r="3.20" fill="url(#gB)" opacity="1.00"/>
<circle cx="397.7" cy="400.4" r="2.88" fill="url(#gB)" opacity="1.00"/>
<circle cx="373.0" cy="412.1" r="2.56" fill="url(#gB)" opacity="1.00"/>
<circle cx="385.0" cy="412.1" r="2.72" fill="url(#gB)" opacity="1.00"/>
<circle cx="421.9" cy="412.5" r="2.40" fill="url(#gB)" opacity="0.85"/>
<circle cx="446.1" cy="339.9" r="2.40" fill="url(#gB)" opacity="0.70"/>
<circle cx="494.1" cy="352.7" r="1.92" fill="url(#gB)" opacity="0.50"/>
<circle cx="446.1" cy="359.6" r="1.92" fill="url(#gB)" opacity="0.20"/>
<circle cx="476.5" cy="358.8" r="2.40" fill="url(#gB)" opacity="0.80"/>
<circle cx="482.3" cy="364.0" r="3.20" fill="url(#gB)" opacity="1.00"/>
<circle cx="446.0" cy="376.5" r="3.20" fill="url(#gB)" opacity="1.00"/>
<circle cx="494.1" cy="376.0" r="3.20" fill="url(#gB)" opacity="1.00"/>
<circle cx="470.0" cy="387.9" r="3.20" fill="url(#gB)" opacity="1.00"/>
<circle cx="458.4" cy="400.2" r="2.08" fill="url(#gB)" opacity="0.55"/>
<circle cx="458.0" cy="412.3" r="3.20" fill="url(#gB)" opacity="1.00"/>
<circle cx="470.3" cy="412.3" r="3.20" fill="url(#gB)" opacity="1.00"/>
<circle cx="433.3" cy="411.7" r="1.60" fill="url(#gB)" opacity="0.20"/>
<circle cx="361.2" cy="449.1" r="2.72" fill="url(#gB)" opacity="1.00"/>
<circle cx="372.7" cy="449.0" r="1.92" fill="url(#gB)" opacity="0.60"/>
<circle cx="421.2" cy="449.0" r="3.20" fill="url(#gB)" opacity="1.00"/>
<circle cx="397.7" cy="461.3" r="2.88" fill="url(#gB)" opacity="1.00"/>
<circle cx="361.2" cy="473.3" r="2.88" fill="url(#gB)" opacity="1.00"/>
<circle cx="373.0" cy="473.3" r="3.04" fill="url(#gB)" opacity="1.00"/>
<circle cx="384.5" cy="473.3" r="3.04" fill="url(#gB)" opacity="1.00"/>
<circle cx="433.4" cy="485.6" r="2.88" fill="url(#gB)" opacity="1.00"/>
<circle cx="494.1" cy="460.6" r="3.20" fill="url(#gB)" opacity="1.00"/>
<circle cx="506.5" cy="460.6" r="3.20" fill="url(#gB)" opacity="1.00"/>
<circle cx="485.1" cy="459.0" r="1.60" fill="url(#gB)" opacity="0.50"/>
<circle cx="434.1" cy="485.3" r="2.88" fill="url(#gB)" opacity="1.00"/>
<circle cx="458.0" cy="485.1" r="3.04" fill="url(#gB)" opacity="1.00"/>
<circle cx="482.3" cy="485.3" r="3.04" fill="url(#gB)" opacity="1.00"/>
<circle cx="434.4" cy="340.7" r="5.9" fill="none" stroke="#fff" stroke-width="1.9" stroke-dasharray="1.6 1.048"/>
<circle cx="482.1" cy="364.5" r="5.9" fill="none" stroke="#fff" stroke-width="1.9" stroke-dasharray="1.6 1.048"/>
<circle cx="446.0" cy="376.0" r="5.9" fill="none" stroke="#fff" stroke-width="1.9" stroke-dasharray="1.6 1.048"/>
<circle cx="494.1" cy="376.0" r="5.9" fill="none" stroke="#fff" stroke-width="1.9" stroke-dasharray="1.6 1.048"/>
<circle cx="470.3" cy="388.0" r="5.9" fill="none" stroke="#fff" stroke-width="1.9" stroke-dasharray="1.6 1.048"/>
<circle cx="458.8" cy="400.4" r="5.9" fill="none" stroke="#fff" stroke-width="1.9" stroke-dasharray="1.6 1.048"/>
<circle cx="373.5" cy="411.4" r="5.9" fill="none" stroke="#fff" stroke-width="1.9" stroke-dasharray="1.6 1.048"/>
<circle cx="421.2" cy="448.3" r="5.9" fill="none" stroke="#fff" stroke-width="1.9" stroke-dasharray="1.6 1.048"/>
<circle cx="493.8" cy="460.1" r="5.9" fill="none" stroke="#fff" stroke-width="1.9" stroke-dasharray="1.6 1.048"/>
<rect x="462.1" y="488.8" width="41.2" height="2.3" fill="#fff"/>
<rect x="518.9" y="333.5" width="161.6" height="160.7" fill="#170404"/>
<rect x="518.9" y="333.5" width="161.6" height="160.7" filter="url(#nR)"/>
<circle cx="552.5" cy="341.0" r="2.08" fill="url(#gR)" opacity="0.70"/>
<circle cx="599.6" cy="340.1" r="3.68" fill="url(#gR)" opacity="1.00"/>
<circle cx="552.0" cy="352.7" r="2.08" fill="url(#gR)" opacity="0.70"/>
<circle cx="563.8" cy="352.7" r="3.20" fill="url(#gR)" opacity="1.00"/>
<circle cx="528.2" cy="364.5" r="2.72" fill="url(#gR)" opacity="0.95"/>
<circle cx="527.8" cy="376.5" r="3.20" fill="url(#gR)" opacity="1.00"/>
<circle cx="551.2" cy="401.0" r="3.52" fill="url(#gR)" opacity="1.00"/>
<circle cx="563.2" cy="401.2" r="2.56" fill="url(#gR)" opacity="0.90"/>
<circle cx="539.2" cy="412.7" r="3.20" fill="url(#gR)" opacity="1.00"/>
<circle cx="551.2" cy="413.0" r="1.92" fill="url(#gR)" opacity="0.40"/>
<circle cx="587.3" cy="413.0" r="2.08" fill="url(#gR)" opacity="0.60"/>
<circle cx="642.4" cy="358.3" r="2.40" fill="url(#gR)" opacity="0.80"/>
<circle cx="648.4" cy="364.5" r="2.72" fill="url(#gR)" opacity="1.00"/>
<circle cx="611.9" cy="377.4" r="3.52" fill="url(#gR)" opacity="1.00"/>
<circle cx="615.6" cy="374.4" r="1.28" fill="url(#gR)" opacity="0.80"/>
<circle cx="660.3" cy="376.5" r="2.40" fill="url(#gR)" opacity="0.90"/>
<circle cx="648.9" cy="376.0" r="1.60" fill="url(#gR)" opacity="0.45"/>
<circle cx="636.1" cy="388.0" r="3.20" fill="url(#gR)" opacity="1.00"/>
<circle cx="624.3" cy="401.0" r="1.60" fill="url(#gR)" opacity="0.60"/>
<circle cx="624.3" cy="412.9" r="3.20" fill="url(#gR)" opacity="1.00"/>
<circle cx="636.6" cy="412.6" r="3.20" fill="url(#gR)" opacity="1.00"/>
<circle cx="660.0" cy="352.0" r="1.28" fill="url(#gR)" opacity="0.25"/>
<circle cx="526.8" cy="449.5" r="2.40" fill="url(#gR)" opacity="0.90"/>
<circle cx="539.2" cy="450.0" r="1.92" fill="url(#gR)" opacity="0.60"/>
<circle cx="587.3" cy="449.0" r="2.88" fill="url(#gR)" opacity="1.00"/>
<circle cx="563.2" cy="461.8" r="2.88" fill="url(#gR)" opacity="1.00"/>
<circle cx="539.2" cy="473.8" r="2.56" fill="url(#gR)" opacity="0.90"/>
<circle cx="550.4" cy="473.8" r="2.24" fill="url(#gR)" opacity="0.60"/>
<circle cx="599.6" cy="486.0" r="3.36" fill="url(#gR)" opacity="1.00"/>
<circle cx="661.6" cy="460.3" r="1.60" fill="url(#gR)" opacity="0.80"/>
<circle cx="672.6" cy="461.3" r="3.20" fill="url(#gR)" opacity="1.00"/>
<circle cx="651.9" cy="459.7" r="1.44" fill="url(#gR)" opacity="0.50"/>
<circle cx="661.2" cy="448.9" r="1.28" fill="url(#gR)" opacity="0.45"/>
<circle cx="648.4" cy="485.5" r="2.40" fill="url(#gR)" opacity="0.80"/>
<circle cx="624.0" cy="486.0" r="1.44" fill="url(#gR)" opacity="0.30"/>
<circle cx="600.8" cy="449.0" r="1.28" fill="url(#gR)" opacity="0.20"/>
<circle cx="600.8" cy="340.2" r="5.9" fill="none" stroke="#fff" stroke-width="1.9" stroke-dasharray="1.6 1.048"/>
<circle cx="648.1" cy="364.2" r="5.9" fill="none" stroke="#fff" stroke-width="1.9" stroke-dasharray="1.6 1.048"/>
<circle cx="611.9" cy="375.7" r="5.9" fill="none" stroke="#fff" stroke-width="1.9" stroke-dasharray="1.6 1.048"/>
<circle cx="659.9" cy="375.7" r="5.9" fill="none" stroke="#fff" stroke-width="1.9" stroke-dasharray="1.6 1.048"/>
<circle cx="636.1" cy="387.9" r="5.9" fill="none" stroke="#fff" stroke-width="1.9" stroke-dasharray="1.6 1.048"/>
<circle cx="624.3" cy="399.9" r="5.9" fill="none" stroke="#fff" stroke-width="1.9" stroke-dasharray="1.6 1.048"/>
<circle cx="539.2" cy="411.7" r="5.9" fill="none" stroke="#fff" stroke-width="1.9" stroke-dasharray="1.6 1.048"/>
<circle cx="586.9" cy="447.0" r="5.9" fill="none" stroke="#fff" stroke-width="1.9" stroke-dasharray="1.6 1.048"/>
<circle cx="661.2" cy="459.7" r="5.9" fill="none" stroke="#fff" stroke-width="1.9" stroke-dasharray="1.6 1.048"/>
<rect x="630.2" y="488.7" width="41.8" height="2.5" fill="#fff"/>
</g>
</svg>
</body></html>
